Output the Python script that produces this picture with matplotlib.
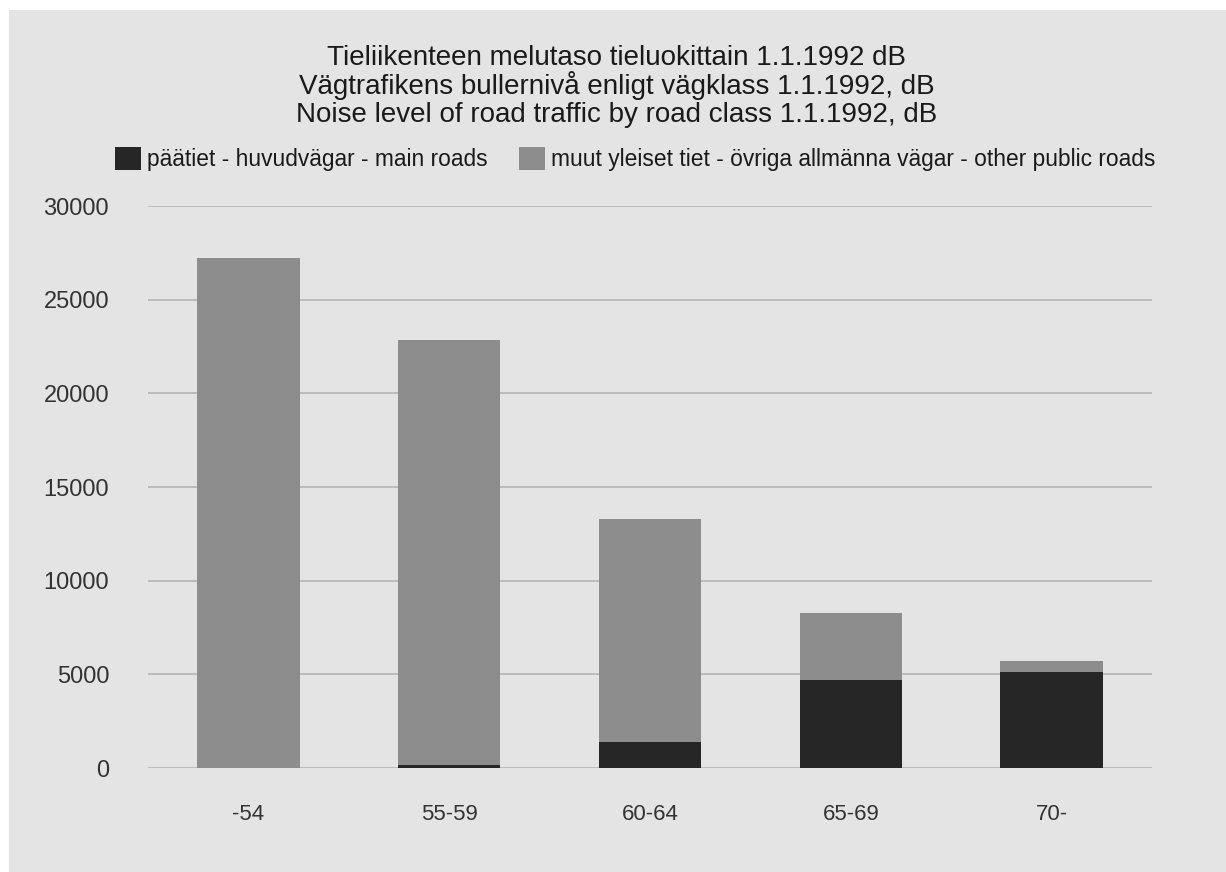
import matplotlib
matplotlib.use("Agg")
import matplotlib.pyplot as plt
from matplotlib.patches import Rectangle
import numpy as np

categories = ["-54", "55-59", "60-64", "65-69", "70-"]
main_roads = [0, 150, 1400, 4700, 5100]
other_roads = [27250, 22700, 11900, 3550, 620]
yticks = [0, 5000, 10000, 15000, 20000, 25000, 30000]
title_lines = [
    "Tieliikenteen melutaso tieluokittain 1.1.1992 dB",
    "Vägtrafikens bullernivå enligt vägklass 1.1.1992, dB",
    "Noise level of road traffic by road class 1.1.1992, dB",
]
label_main = "päätiet - huvudvägar - main roads"
label_other = "muut yleiset tiet - övriga allmänna vägar - other public roads"

plt.rcParams["font.family"] = ["Liberation Sans", "DejaVu Sans"]
W, H = 1226, 872
fig = plt.figure(figsize=(W / 100, H / 100), dpi=100, facecolor="white")
bg = "#e4e4e4"
fig.patches.append(Rectangle((9 / W, 0), 1 - 9 / W, 1 - 10 / H, transform=fig.transFigure,
                             facecolor=bg, edgecolor="none", zorder=-10))

ax = fig.add_axes([148 / W, 1 - 768 / H, (1152 - 148) / W, (768 - 206) / H])
ax.set_facecolor("none")
x = np.arange(len(categories))
dark = "#262626"
light = "#8d8d8d"
b1 = ax.bar(x, main_roads, width=0.51, color=dark, label=label_main, zorder=3)
b2 = ax.bar(x, other_roads, width=0.51, bottom=main_roads, color=light, label=label_other, zorder=3)
ax.set_xlim(-0.5, len(categories) - 0.5)
ax.set_ylim(0, 30000)
ax.set_yticks(yticks)
ax.set_yticklabels([str(v) for v in yticks], fontsize=17, color="#333333")
ax.set_xticks(x)
ax.set_xticklabels(categories, fontsize=16, color="#333333")
ax.tick_params(axis="y", length=0, pad=28)
ax.tick_params(axis="x", length=0, pad=26)
ax.yaxis.grid(True, color="#b4b4b4", linewidth=1.2, zorder=0)
ax.set_axisbelow(True)
for s in ax.spines.values():
    s.set_visible(False)

for i, line in enumerate(title_lines):
    fig.text(0.503, 1 - (65 + 28.5 * i) / H, line, ha="center", va="baseline",
             fontsize=20, color="#1a1a1a")

leg = fig.legend(handles=[b1, b2], labels=[label_main, label_other], loc="center left",
                 bbox_to_anchor=(106 / W, 1 - 159 / H), ncol=2, frameon=False,
                 fontsize=16.4, handlelength=1.15, handleheight=1.15, handletextpad=0.26,
                 columnspacing=1.36, borderaxespad=0, labelcolor="#1a1a1a")

fig.savefig("out.png", dpi=100, facecolor=fig.get_facecolor())
